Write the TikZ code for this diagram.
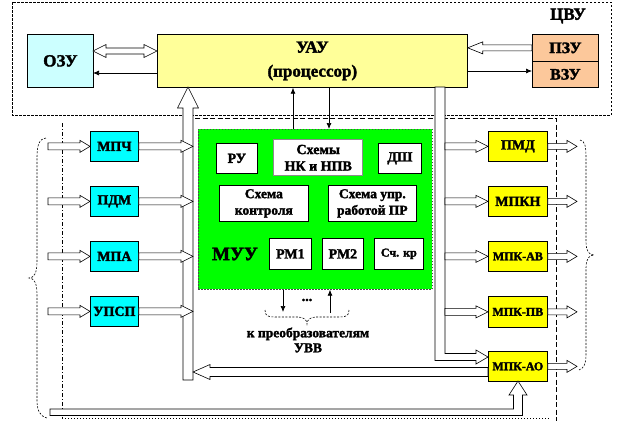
\documentclass[tikz,border=0pt]{standalone}
\usepackage{fontspec}
\setmainfont{Liberation Serif}
\newfontfamily\tnr{Liberation Serif}[BoldFont={Liberation Serif Bold}, BoldFeatures={FakeBold=2}]
\usetikzlibrary{calc,arrows.meta}
\definecolor{ozuC}{RGB}{204,255,255}
\definecolor{uauC}{RGB}{255,255,153}
\definecolor{pzuC}{RGB}{252,200,155}
\definecolor{cyanC}{RGB}{0,255,255}
\definecolor{yelC}{RGB}{255,255,0}
\definecolor{grnC}{RGB}{0,255,0}
\newcommand\fs[2]{\tnr\bfseries\fontsize{#1}{#2}\selectfont}
\tikzset{
 box/.style={draw=black, line width=0.7pt, inner sep=0pt, anchor=north west, align=center},
 hollow/.style={draw=black, fill=white, line width=0.6pt, line join=miter},
 thinarr/.style={draw=black, line width=0.7pt, -{Latex[length=6pt,width=5pt]}},
 bracestyle/.style={draw=black, line width=0.6pt, dash pattern=on 2pt off 1.5pt},
}
\newcommand\harr[5]{%
 \filldraw[hollow] let \p1=#1, \p2=#2, \n1={ifthenelse(\x2>\x1,1,-1)} in
 (\x1,\y2+#3) -- ({\x2-\n1*#5},\y2+#3) -- ({\x2-\n1*#5},\y2+#4) -- (\x2,\y2)
 -- ({\x2-\n1*#5},\y2-#4) -- ({\x2-\n1*#5},\y2-#3) -- (\x1,\y2-#3) -- cycle;}
\newcommand\dharr[5]{%
 \filldraw[hollow] let \p1=#1, \p2=#2 in
 (\x1,\y2) -- (\x1+#5,\y2+#4) -- (\x1+#5,\y2+#3) -- (\x2-#5,\y2+#3) -- (\x2-#5,\y2+#4)
 -- (\x2,\y2) -- (\x2-#5,\y2-#4) -- (\x2-#5,\y2-#3) -- (\x1+#5,\y2-#3) -- (\x1+#5,\y2-#4) -- cycle;}
\begin{document}
\begin{tikzpicture}[x=1pt,y=-1pt]
\useasboundingbox (0,0) rectangle (621,421);
% frames
\draw[line width=0.6pt, dash pattern=on 2.5pt off 1.5pt] (12,2) rectangle (611,115);
\node[font=\fs{17}{17}] (cvu) at (568,16) {ЦВУ};
\draw[line width=0.6pt, dash pattern=on 4pt off 2pt on 1pt off 2pt] (62,123) -- (62,418);
\draw[line width=0.8pt, dash pattern=on 1.2pt off 1.8pt] (62,418) -- (550,418);
\draw[line width=0.6pt, dash pattern=on 5pt off 2.5pt] (195,118) -- (556,118) -- (556,421);
% top row
\node[box, fill=ozuC, minimum width=66pt, minimum height=53pt, font=\fs{17}{17}] (ozu) at (27,34) {ОЗУ};
\node[box, fill=uauC, minimum width=310pt, minimum height=53pt, font=\fs{17}{24}] (uau) at (157,34) {УАУ\\(процессор)};
\node[box, fill=pzuC, minimum width=66pt, minimum height=27pt, font=\fs{16}{16}] (pzu) at (532,34) {ПЗУ};
\node[box, fill=pzuC, minimum width=66pt, minimum height=26pt, font=\fs{16}{16}] (vzu) at (532,61) {ВЗУ};
\coordinate (oz1) at (93,51);
\coordinate (oz2) at (93,73);
\coordinate (vzA) at (532,71);
\dharr{(oz1)}{(oz1 -| uau.west)}{3pt}{6.5pt}{13pt}
\draw[thinarr] (oz2 -| uau.west) -- (oz2);
\harr{(pzu.west)}{(pzu.west -| uau.east)}{3pt}{6pt}{15pt}
\draw[thinarr] (vzA -| uau.east) -- (vzA);
% left bus
\coordinate (lbt) at (188,87);
\coordinate (lbe) at (193,300);
\filldraw[hollow] (183,380) -- (183,108) -- (177.5,108) -- (lbt) -- (198.5,108) -- (193,108) -- (193,380) -- cycle;
% right bus
\coordinate (rbe) at (445,200);
\filldraw[hollow] (435,87) -- (435,360.5) -- (476,360.5) -- (476,364) -- (488,357) -- (476,350) -- (476,353.5) -- (445,353.5) -- (445,87) -- cycle;
% left boxes
\foreach \nm/\yy/\tx in {mpch/131/МПЧ, pdm/186/ПДМ, mpa/241/МПА, upsp/296/УПСП}{
 \node[box, fill=cyanC, minimum width=48pt, minimum height=30pt, font=\fs{14}{14}] (\nm) at (90,\yy) {\tx};
}
\coordinate (li) at (48,0);
\foreach \nm in {mpch,pdm,mpa,upsp}{
 \harr{(\nm.west -| li)}{(\nm.west)}{3.5pt}{6pt}{10pt}
 \harr{(\nm.east)}{(\nm.east -| lbe)}{3.5pt}{6pt}{12pt}
}
% right boxes
\node[box, fill=yelC, minimum width=59pt, minimum height=30pt, font=\fs{14}{14}] (pmd) at (488,131) {ПМД};
\node[box, fill=yelC, minimum width=59pt, minimum height=30pt, font=\fs{14}{14}] (mpkn) at (488,186) {МПКН};
\node[box, fill=yelC, minimum width=59pt, minimum height=30pt, font=\fs{12}{12}] (mpkav) at (488,241) {МПК-АВ};
\node[box, fill=yelC, minimum width=59pt, minimum height=31pt, font=\fs{12}{12}] (mpkpv) at (488,296) {МПК-ПВ};
\node[box, fill=yelC, minimum width=59pt, minimum height=30pt, font=\fs{12}{12}] (mpkao) at (488,351) {МПК-АО};
\coordinate (ro) at (577,0);
\foreach \nm in {pmd,mpkn,mpkav,mpkpv}{
 \harr{(\nm.west -| rbe)}{(\nm.west)}{3.5pt}{6pt}{12pt}
}
\foreach \nm in {pmd,mpkn,mpkav,mpkpv,mpkao}{
 \harr{(\nm.east)}{(\nm.east -| ro)}{3pt}{6pt}{10pt}
}
% return arrow and bottom bus
\coordinate (ret) at (488,372);
\harr{(ret)}{(ret -| lbe)}{4.5pt}{7.5pt}{17pt}
\coordinate (bbt) at (518,381);
\filldraw[hollow] (50,409) -- (513.5,409) -- (513.5,395) -- (509,395) -- (bbt) -- (527,395) -- (522.5,395) -- (522.5,415.5) -- (50,415.5) -- cycle;
% braces
\draw[bracestyle] (46,138) .. controls (39,139) and (37,145) .. (37,158) -- (37,262) .. controls (37,273) and (34,278) .. (29,278) .. controls (34,278) and (37,283) .. (37,294) -- (37,400) .. controls (37,411) and (40,416) .. (47,418);
\draw[bracestyle] (580,140) .. controls (585,141) and (586,146) .. (586,158) -- (586,242) .. controls (586,251) and (589,255) .. (594,255) .. controls (589,255) and (586,259) .. (586,268) -- (586,355) .. controls (586,364) and (584,368) .. (579,370);
% green block
\node[box, fill=grnC, draw=black!70, dash pattern=on 1.5pt off 1.5pt, minimum width=234pt, minimum height=160pt] (muu) at (198,129) {};
\node[box, fill=white, minimum width=41pt, minimum height=30pt, font=\fs{14}{14}] (ru) at (216,143) {РУ};
\node[box, fill=white, draw=black!45, line width=1.4pt, minimum width=89pt, minimum height=36pt, font=\fs{14}{16.5}] (nk) at (273,139) {Схемы\\НК и НПВ};
\node[box, fill=white, minimum width=43pt, minimum height=30pt, font=\fs{14}{14}] (dsh) at (378,143) {ДШ};
\node[box, fill=white, minimum width=89pt, minimum height=36pt, font=\fs{13.5}{16.5}] (sk) at (219,185) {Схема\\контроля};
\node[box, fill=white, minimum width=88pt, minimum height=36pt, font=\fs{13.5}{16.5}] (sup) at (328,185) {Схема упр.\\работой ПР};
\node[font=\fs{19}{19}] (muut) at (235,254) {МУУ};
\node[box, fill=white, minimum width=42pt, minimum height=31pt, font=\fs{14}{14}] (rm1) at (269,238) {РМ1};
\node[box, fill=white, minimum width=41pt, minimum height=31pt, font=\fs{14}{14}] (rm2) at (322,238) {РМ2};
\node[box, fill=white, minimum width=49pt, minimum height=31pt, font=\fs{12}{12}] (sch) at (374,238) {Сч. кр};
% thin links to УАУ
\coordinate (ta) at (293,0);
\coordinate (tb) at (329,0);
\draw[thinarr] (ta |- muu.north) -- (ta |- uau.south);
\draw[thinarr] (tb |- uau.south) -- (tb |- muu.north);
% links below
\coordinate (da) at (283,312);
\coordinate (ua) at (330,313);
\draw[thinarr] (da |- muu.south) -- (da);
\draw[thinarr] (ua) -- (ua |- muu.south);
\node[font=\fs{14}{14}] (dots) at (307,300) {...};
\draw[bracestyle] (265,310) .. controls (265,316) and (268,317) .. (275,317) -- (298,317) .. controls (304,317) and (307,320) .. (307,324) .. controls (307,320) and (310,317) .. (316,317) -- (339,317) .. controls (346,317) and (349,316) .. (349,310);
\node[font=\fs{13.5}{15}, align=center] (uvv) at (308,340) {к преобразователям\\УВВ};
\end{tikzpicture}
\end{document}
